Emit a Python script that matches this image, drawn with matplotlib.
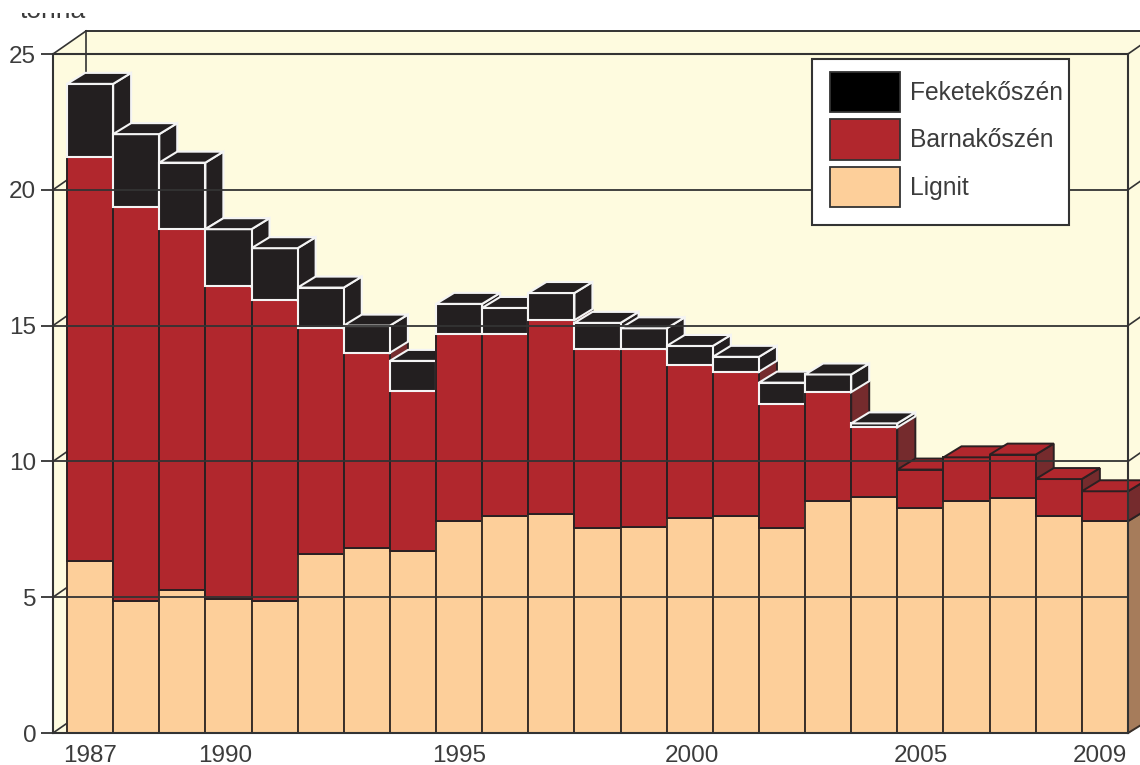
import matplotlib
matplotlib.use('Agg')
import matplotlib.pyplot as plt
from matplotlib.patches import Patch, Rectangle

years = list(range(1987, 2010))
lignit = [6.35, 4.85, 5.25, 4.95, 4.85, 6.6, 6.8, 6.7, 7.8, 8.0, 8.05, 7.55,
          7.6, 7.9, 8.0, 7.55, 8.55, 8.7, 8.3, 8.55, 8.65, 8.0, 7.8]
barna = [14.85, 14.5, 13.3, 11.5, 11.1, 8.3, 7.2, 5.9, 6.9, 6.7, 7.15, 6.6,
         6.55, 5.65, 5.3, 4.55, 4.0, 2.55, 1.4, 1.6, 1.6, 1.35, 1.1]
fekete = [2.7, 2.7, 2.45, 2.1, 1.9, 1.5, 1.0, 1.1, 1.1, 0.95, 1.0, 0.95,
          0.75, 0.7, 0.55, 0.8, 0.65, 0.15, 0, 0, 0, 0, 0]
tick_labels = ['1987', '1990', '1995', '2000', '2005', '2009']
# the labels sit slightly off the bar centres in the source
tick_pos = [0, 2.92, 8, 13.04, 18, 21.9]
y_ticks = [0, 5, 10, 15, 20, 25]

plt.rcParams['font.family'] = ['Liberation Sans', 'DejaVu Sans']

W, H = 1140, 765
LINE = '#333333'
TEXT = '#3c3c3c'
WALL = '#fefbdf'

fig = plt.figure(figsize=(W / 100, H / 100), dpi=100)
ax = fig.add_axes([53 / W, (H - 733) / H, (1128 - 53) / W, (733 - 54) / H])
ax.set_facecolor(WALL)

x_min, x_max = -0.8035, 22.5
px_x = (x_max - x_min) / (1128 - 53)
px_y = 25 / (733 - 54)
wall_dx, wall_dy = 33 * px_x, 23 * px_y
bar_dx, bar_dy = 18 * px_x, 11 * px_y

# walls behind the bars
ax.fill([x_min, x_min + wall_dx, x_max + wall_dx, x_max], [25, 25 + wall_dy, 25 + wall_dy, 25],
        color=WALL, clip_on=False, lw=0)
ax.fill([x_max, x_max + wall_dx, x_max + wall_dx, x_max], [25, 25 + wall_dy, wall_dy, 0],
        color=WALL, clip_on=False, lw=0)
ax.plot([x_min + wall_dx, x_max + wall_dx], [25 + wall_dy] * 2, color=LINE, lw=1.4, clip_on=False, zorder=1)
ax.plot([x_min + wall_dx] * 2, [0, 25 + wall_dy], color=LINE, lw=1.2, clip_on=False, zorder=1)
for t in y_ticks:
    ax.plot([x_min, x_min + wall_dx], [t, t + wall_dy], color=LINE, lw=1.2, clip_on=False, zorder=1)
    ax.plot([x_max, x_max + wall_dx], [t, t + wall_dy], color=LINE, lw=1.2, clip_on=False, zorder=1)

layers = [
    (lignit, '#fdcf9a', '#a67c5b', '#fdcf9a', '#3a2f28', 1.4),
    (barna, '#b1272d', '#752b2d', '#b1272d', '#2b2022', 1.4),
    (fekete, '#231f20', '#231f20', '#231f20', '#f4f4f4', 1.5),
]

for i in range(len(years)):
    left, right = i - 0.5, i + 0.5
    bottom = 0
    for values, front, side, top, edge, lw in layers:
        h = values[i]
        if h == 0:
            continue
        ax.fill([right, right + bar_dx, right + bar_dx, right],
                [bottom, bottom + bar_dy, bottom + h + bar_dy, bottom + h],
                facecolor=side, edgecolor=edge, lw=lw, clip_on=False, zorder=1)
        ax.bar(i, h, width=1, bottom=bottom, color=front, edgecolor=edge, lw=lw, zorder=1)
        bottom += h
    # top face takes the colour of the highest layer
    top_layer = [l for l in layers if l[0][i] > 0][-1]
    ax.fill([left, left + bar_dx, right + bar_dx, right],
            [bottom, bottom + bar_dy, bottom + bar_dy, bottom],
            facecolor=top_layer[3], edgecolor=top_layer[4], lw=top_layer[5], clip_on=False, zorder=1)

ax.set_xlim(x_min, x_max)
ax.set_ylim(0, 25)
ax.set_axisbelow(False)
ax.yaxis.grid(True, color=LINE, lw=1.3)
ax.xaxis.grid(False)
ax.set_yticks(y_ticks)
ax.set_xticks(tick_pos)
ax.set_xticklabels(tick_labels)
ax.tick_params(axis='y', length=8.6, width=1.3, color=LINE, pad=3.5, labelsize=17.5, labelcolor=TEXT)
ax.tick_params(axis='x', length=0, pad=8.5, labelsize=17.5, labelcolor=TEXT)
for spine in ax.spines.values():
    spine.set_color(LINE)
    spine.set_linewidth(1.5)

# legend frame is wider on the left than the text side, so it is drawn apart
frame = Rectangle((812 / W, 1 - 225 / H), (1069 - 812) / W, (225 - 59) / H, transform=fig.transFigure,
                  facecolor='white', edgecolor=LINE, lw=1.5, clip_on=False, zorder=4)
ax.add_patch(frame)

handles = [Patch(facecolor='#000000', edgecolor=LINE, lw=1.3, label='Feketekőszén'),
           Patch(facecolor='#b1272d', edgecolor=LINE, lw=1.3, label='Barnakőszén'),
           Patch(facecolor='#fdcf9a', edgecolor=LINE, lw=1.3, label='Lignit')]
leg = ax.legend(handles=handles, loc='upper left', bbox_to_anchor=(830 / W, 1 - 72 / H),
                bbox_transform=fig.transFigure, fontsize=17.7, frameon=False, borderpad=0,
                borderaxespad=0, handlelength=2.84, handleheight=2.146, labelspacing=0.29,
                handletextpad=0.41, labelcolor=TEXT)
leg.set_zorder(5)

# unit label, only its lower edge survives in the source image
fig.text(20 / W, 1 - 18 / H, 'tonna', fontsize=19, color=TEXT, va='baseline', ha='left', zorder=3)
fig.add_artist(Rectangle((0, 1 - 13 / H), 200 / W, 13 / H, transform=fig.transFigure,
                         facecolor='white', edgecolor='none', zorder=6))

fig.savefig('out.png', dpi=100)
